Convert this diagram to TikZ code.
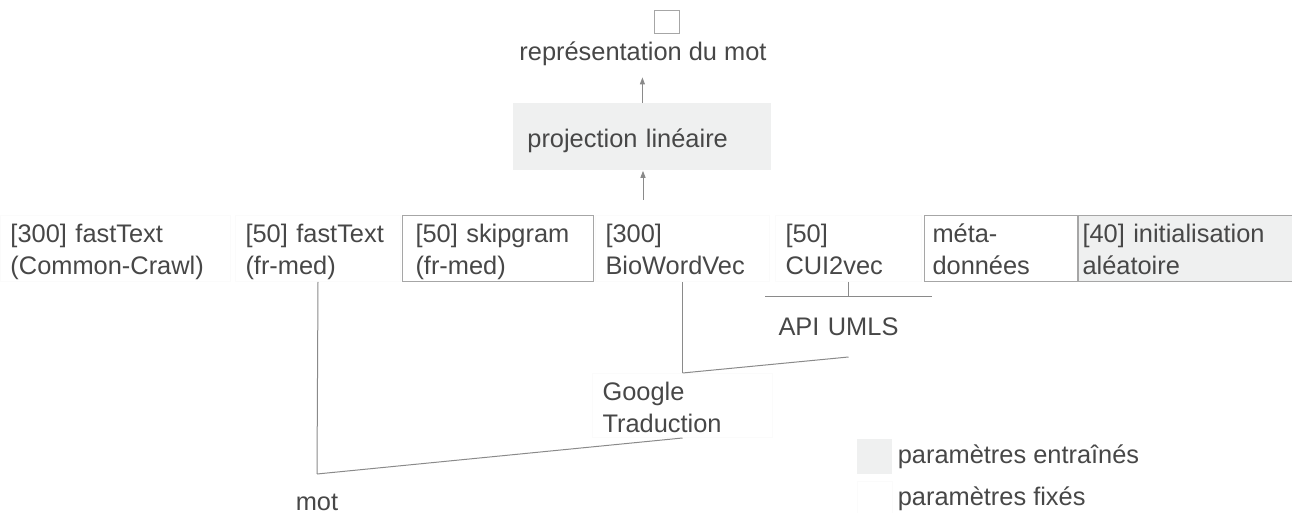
\documentclass[tikz,border=0pt]{standalone}
\usepackage{fontspec}
\setmainfont{Liberation Sans}
\usetikzlibrary{positioning,arrows.meta}
\definecolor{txtgray}{HTML}{474747}
\definecolor{linegray}{HTML}{8A8A8A}
\definecolor{boxgray}{HTML}{A6A6A6}
\definecolor{trainfill}{HTML}{EFF0F0}
\definecolor{faintgray}{HTML}{FBFBFB}

\begin{document}
\begin{tikzpicture}[x=0.5pt,y=-0.5pt,
  lbl/.style={text=txtgray,font=\fontsize{12.7}{16}\selectfont,inner sep=0pt},
  emb/.style={lbl,anchor=north west,align=left,inner xsep=5pt,inner ysep=0pt,text height=13.5pt,text depth=19.5pt,draw=faintgray,line width=0.5pt},
  fixed/.style={draw=boxgray},
  trained/.style={draw=boxgray,fill=trainfill},
  conn/.style={draw=linegray,line width=0.5pt},
  arr/.style={conn,-{Triangle[length=3.5pt,width=2.5pt]}},
  key/.style={minimum width=17.5pt,minimum height=17.5pt,inner sep=0pt}]
\useasboundingbox (0,0) rectangle (1292,513);

% sortie
\node[draw=boxgray,line width=0.5pt,minimum width=12.5pt,minimum height=11.5pt,inner sep=0pt] (vec) at (666.5,22.5) {};
\node[lbl,anchor=base,text height=13.5pt,text depth=8pt] (repr) at (643,61) {représentation du mot};
\node[lbl,anchor=north west,fill=trainfill,minimum height=33.5pt,inner xsep=7pt,text width=115pt,text height=13.5pt,text depth=3pt] (proj) at (513,103) {projection linéaire};
\coordinate (cat) at (643,200);
\draw[arr] (proj.north) -- (proj.north |- repr.south);
\draw[arr] (cat) -- (cat |- proj.south);

% plongements
\node[emb,text width=105pt] (ccft) at (0,215) {[300] fastText\\(Common-Crawl)};
\node[emb,text width=72.5pt] (frft) at (235,215) {[50] fastText\\(fr-med)};
\node[emb,fixed,inner xsep=6.5pt,text width=82.5pt] (skip) at (402,215) {[50] skipgram\\(fr-med)};
\node[emb,text width=77pt] (bio) at (595,215) {[300]\\BioWordVec};
\node[emb,text width=63pt] (cui) at (775,215) {[50]\\CUI2vec};
\node[emb,fixed,inner xsep=4pt,text width=68.5pt] (meta) at (924,215) {méta-\\données};
\node[emb,trained,right=0pt of meta,inner xsep=2pt,text width=103pt] (init) {[40] initialisation\\aléatoire};

% outils
\node[emb,text width=80pt,text depth=18.5pt] (google) at (592,373) {Google\\Traduction};
\node[emb,draw=none,inner xsep=6.5pt,text width=70pt,text height=19pt,text depth=10.5pt] (api) at (765,297) {API UMLS};
\draw[conn] (api.north west) -- (api.north east);
\node[lbl,anchor=north,inner ysep=5pt,text height=13pt,text depth=0pt] (mot) at (317,474) {mot};

\path[conn] (mot.north) edge (frft.south);
\path[conn] (mot.north) edge (google.south);
\path[conn] (google.north) edge (bio.south);
\path[conn] (google.north) edge (api.south);
\path[conn] (cui.south) edge (api.north);

% legende
\node[key,fill=trainfill] (keytr) at (874.5,456.5) {};
\node[lbl,right=2.5pt of keytr] (legtr) {paramètres entraînés};
\node[key,draw=faintgray] (keyfx) at (874.5,498.5) {};
\node[lbl,right=2.5pt of keyfx] (legfx) {paramètres fixés};
\end{tikzpicture}
\end{document}
